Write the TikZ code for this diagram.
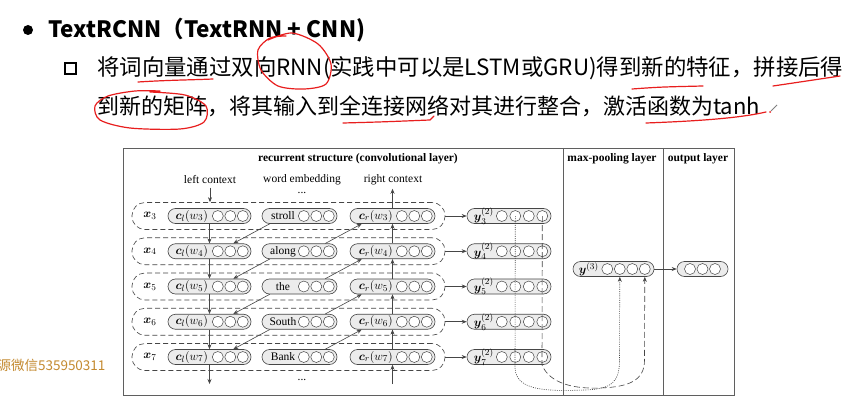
\documentclass[tikz,border=0pt]{standalone}
\usepackage{amsmath}
\usepackage{fontspec}
\setmainfont{Liberation Serif}
\newfontfamily\cjk{Noto Sans CJK SC}
\usetikzlibrary{calc,arrows.meta}
\definecolor{boxline}{RGB}{95,95,95}
\definecolor{ink}{RGB}{70,70,70}
\definecolor{pillfill}{RGB}{236,236,236}
\definecolor{penred}{RGB}{232,30,30}
\definecolor{wmark}{RGB}{196,138,48}
\newcommand\dgfont{\fontsize{11.5}{13}\selectfont}
\newcommand\pillfont{\fontsize{12.5}{14}\selectfont}

\tikzset{
  pill/.style={draw=ink, fill=pillfill, rounded corners=7.5pt, minimum height=15pt, inner sep=0pt, line width=0.6pt},
  rowbox/.style={draw=ink, dash pattern=on 5pt off 3pt, rounded corners=13pt, minimum height=27pt, minimum width=313pt, inner sep=0pt, line width=0.6pt},
  bead/.style={circle, draw=ink, fill=white, minimum size=11pt, inner sep=0pt, line width=0.5pt},
  link/.style={-{Stealth[length=5pt,width=4pt]}, ink, line width=0.6pt},
  redpen/.style={penred, line width=1.2pt, line cap=round, line join=round},
}

\begin{document}
\begin{tikzpicture}[x=1pt,y=-1pt]
\fill[white] (0,0) rectangle (842,406);
\useasboundingbox (0,0) rectangle (842,406);

% ── slide text ──
\fill[black] (28,30) circle (5pt);
\node[anchor=west, font=\cjk\bfseries\fontsize{22.5}{26}\selectfont] (title) at (45,30) {TextRCNN（TextRNN + CNN)};
\draw[black, line width=2pt] (65,63) rectangle (76,74);
\node[anchor=west, font=\cjk\fontsize{22.4}{26}\selectfont, inner sep=2pt] (lineA) at (95,68) {将词向量通过双向RNN(实践中可以是LSTM或GRU)得到新的特征，拼接后得};
\node[anchor=west, font=\cjk\fontsize{22}{26}\selectfont, inner sep=2pt] (lineB) at (95,106) {到新的矩阵，将其输入到全连接网络对其进行整合，激活函数为tanh};

% ── pen marks ──
\draw[redpen] plot[smooth] coordinates {(268,40) (292,33) (318,44) (331,64) (326,84) (304,89) (278,86) (261,70) (258,50) (270,38) (286,36)};
\draw[redpen] (138,82) .. controls (170,80) and (190,80) .. (213,79);
\draw[redpen] (632,89) .. controls (660,87) .. (703,86);
\draw[redpen] (773,86) .. controls (800,82) .. (840,76);
\draw[redpen] plot[smooth] coordinates {(150,92) (185,95) (206,106) (204,122) (180,129) (130,128) (100,120) (95,106) (108,96) (135,91) (160,91)};
\draw[redpen] (343,123) .. controls (380,122) .. (430,120) -- (434,116);
\draw[redpen] (646,123) .. controls (700,121) and (740,118) .. (766,112);
\draw[gray, line width=0.8pt] (771,111) -- (777,105);
\fill[penred] (770,112) circle (1pt);

% ── watermark ──
\node[anchor=east, text=wmark, font=\cjk\fontsize{13.5}{15}\selectfont] (wm) at (109,365) {源微信535950311};

% ═══ figure frame ═══
\draw[boxline, line width=0.8pt] (123,148) rectangle (734,395);
\draw[boxline, line width=0.8pt] (563,148) -- (563,395);
\draw[boxline, line width=0.8pt] (663,148) -- (663,395);

\node[font=\dgfont\bfseries] (hrec) at (358,159) {recurrent structure (convolutional layer)};
\node[font=\dgfont\bfseries] (hpool) at (612,159) {max-pooling layer};
\node[font=\dgfont\bfseries] (hout) at (698,159) {output layer};

\node[font=\dgfont] (lctx) at (210,180) {left context};
\node[font=\dgfont] (wemb) at (302,180) {word embedding};
\node[font=\dgfont] (rctx) at (393,180) {right context};
\node[font=\dgfont, inner sep=0pt] (dtop) at (302,193) {...};
\node[font=\dgfont, inner sep=0pt] (dbot) at (302,380) {...};

% ── rows ──
\foreach \i/\w in {3/stroll,4/along,5/the,6/South,7/Bank} {
  \pgfmathsetmacro{\yy}{216+35.25*(\i-3)}
  \node[rowbox] (row\i) at (288.5,\yy) {};
  \node[font=\pillfont] (xl\i) at (150,\yy) {$\boldsymbol{x}_{\i}$};
  % left context
  \node[pill, minimum width=83pt] (cl\i) at (209.5,\yy) {};
  \node[font=\pillfont] at ([xshift=24pt]cl\i.west) {$\boldsymbol{c}_l(w_{\i})$};
  \foreach \k in {0,1,2}
    \node[bead] at ([xshift={-8.5-12.5*\k}]cl\i.east) {};
  % word embedding
  \node[pill, minimum width=75pt] (wd\i) at (299.5,\yy) {};
  \node[font=\dgfont] at (283,\yy) {\w};
  \foreach \k in {0,1,2}
    \node[bead] at ([xshift={-8.5-12.5*\k}]wd\i.east) {};
  % right context
  \node[pill, minimum width=85pt] (cr\i) at (392.5,\yy) {};
  \node[font=\pillfont] at ([xshift=26pt]cr\i.west) {$\boldsymbol{c}_r(w_{\i})$};
  \foreach \k in {0,1,2}
    \node[bead] at ([xshift={-8.5-12.5*\k}]cr\i.east) {};
  % latent semantic
  \node[pill, minimum width=84pt] (yt\i) at (509,\yy) {};
  \node[font=\pillfont] at ([xshift=17pt]yt\i.west) {$\boldsymbol{y}^{(2)}_{\i}$};
  \foreach \k in {1,...,4}
    \node[bead] (yt\i c\k) at ([xshift={-9-13.5*(4-\k)}]yt\i.east) {};
  \draw[link] (row\i.east) -- (yt\i.west);
}

% ── recurrence ──
\draw[link] (lctx.south) -- (lctx.south |- row3.north);
\draw[link] (cr3.north) -- (cr3.north |- rctx.south);
\foreach \i in {3,...,6} {
  \pgfmathtruncatemacro{\j}{\i+1}
  \draw[link] (cl\i.south) -- (cl\j.north);
  \draw[link] (cr\j.north) -- (cr\i.south);
  \draw[link] ([xshift=8pt]wd\i.south west) -- ([xshift=-18pt]cl\j.north east);
  \draw[link] ([xshift=-12pt]wd\j.north east) -- ([xshift=12pt]cr\i.south west);
}
\coordinate (lcend) at (209.5,384);
\coordinate (rcbeg) at (392.5,384);
\draw[link] (cl7.south) -- (lcend);
\draw[link] (rcbeg) -- (cr7.south);

% ── max-pooling and output ──
\node[pill, minimum width=81pt] (ythree) at (613.5,269) {};
\node[font=\pillfont] at ([xshift=16pt]ythree.west) {$\boldsymbol{y}^{(3)}$};
\foreach \k in {1,...,4}
  \node[bead] (y3c\k) at ([xshift={-9.5-12.5*(4-\k)}]ythree.east) {};
\node[pill, minimum width=51pt] (outp) at (702.5,269) {};
\foreach \k in {-1,0,1}
  \node[bead] at ([xshift={12.5*\k}]outp.center) {};
\draw[link] (ythree.east) -- (outp.west);

\draw[ink, line width=0.6pt, dash pattern=on 1pt off 1.2pt, -{Stealth[length=5pt,width=4pt]}]
  (yt3c2.center) -- (515,368) .. controls (516,392) and (550,391) .. (585,390)
  .. controls (612,389) and (619.5,382) .. (619.5,360) -- (ythree.south -| y3c2);
\draw[ink, line width=0.6pt, dash pattern=on 6pt off 3pt, -{Stealth[length=5pt,width=4pt]}]
  (yt3c4.center) -- (542,365) .. controls (550,384) and (575,389) .. (600,388)
  .. controls (630,387) and (644.5,380) .. (644.5,360) -- (ythree.south -| y3c4);

\end{tikzpicture}
\end{document}
